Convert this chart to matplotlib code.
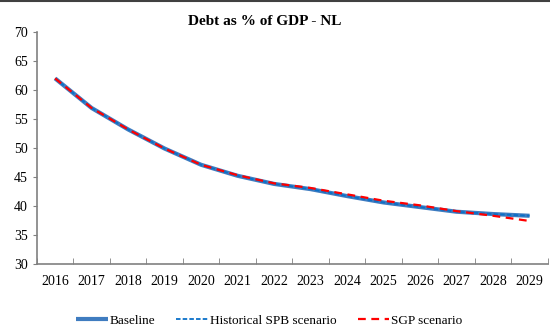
import matplotlib.pyplot as plt
from matplotlib.lines import Line2D
import numpy as np

plt.rcParams['font.family'] = ['Liberation Serif', 'DejaVu Serif']

years = [str(y) for y in range(2016, 2030)]
baseline = [62.0, 56.9, 53.2, 49.9, 47.1, 45.2, 43.8, 42.9, 41.7, 40.6, 39.8, 39.0, 38.6, 38.3]
hist_spb = [62.0, 56.9, 53.2, 49.9, 47.1, 45.2, 43.8, 42.9, 41.7, 40.6, 39.8, 39.0, 38.6, 38.3]
sgp = [62.0, 56.9, 53.2, 49.9, 47.1, 45.3, 43.9, 43.1, 42.0, 40.9, 40.1, 39.1, 38.3, 37.4]

x = np.arange(len(years))

fig = plt.figure(figsize=(5.5, 3.27), dpi=100)
ax = fig.add_axes([0.067, 0.193, 0.929, 0.709])

ax.plot(x, baseline, color='#3f7cc0', lw=3.0, solid_capstyle='butt', label='Baseline')
ax.plot(x, hist_spb, color='#0a70c8', lw=1.3, ls=(0, (2.5, 1.2)), label='Historical SPB scenario')
ax.plot(x, sgp, color='#ff0000', lw=1.6, ls=(0, (3.5, 2.5)), label='SGP scenario')

ax.set_xlim(-0.5, len(years) - 0.5)
ax.set_ylim(30, 70)
ax.set_yticks(np.arange(30, 71, 5))
ax.set_xticks(x)
ax.set_xticklabels(years)
ax.set_xticks(np.arange(-0.5, len(years), 1), minor=True)
ax.tick_params(axis='x', which='major', length=0, labelsize=10, pad=8)
ax.tick_params(axis='x', which='minor', direction='in', length=4, color='#808080')
ax.tick_params(axis='y', direction='out', length=3, color='#808080', labelsize=10)

for s in ['top', 'right']:
    ax.spines[s].set_visible(False)
for s in ['left', 'bottom']:
    ax.spines[s].set_color('#808080')
    ax.spines[s].set_linewidth(1.2)

fig.text(0.482, 0.935, 'Debt as % of GDP - NL', ha='center', va='center',
         fontsize=11, fontweight='bold')

# top border line
fig.add_artist(Line2D([0, 1], [0.997, 0.997], color='#404040', lw=1.5, transform=fig.transFigure))

ax.legend(loc='center', bbox_to_anchor=(0.455, -0.245), ncol=3, frameon=False,
          fontsize=9.5, handlelength=2.4, columnspacing=1.6, handletextpad=0.15,
          borderaxespad=0, borderpad=0)

fig.savefig('out.png', dpi=100)
